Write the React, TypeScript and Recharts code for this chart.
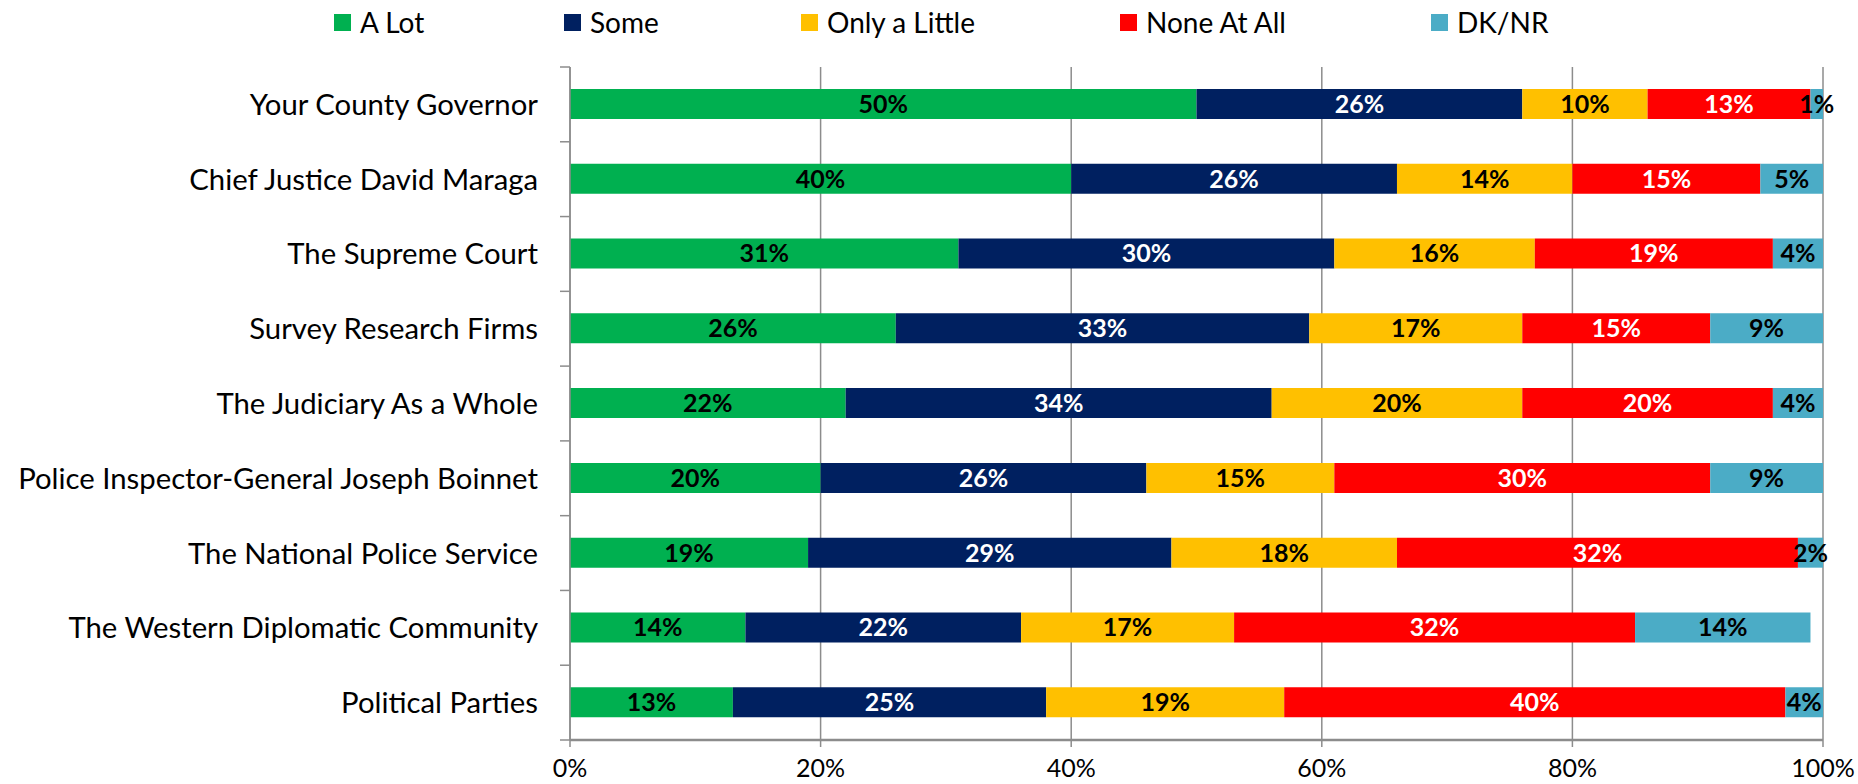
import React from 'react';
import { BarChart, Bar, XAxis, YAxis, CartesianGrid, Legend, LabelList } from 'recharts';

const categories = [
  'Your County Governor',
  'Chief Justice David Maraga',
  'The Supreme Court',
  'Survey Research Firms',
  'The Judiciary As a Whole',
  'Police Inspector-General Joseph Boinnet',
  'The National Police Service',
  'The Western Diplomatic Community',
  'Political Parties',
];
const aLot = [50, 40, 31, 26, 22, 20, 19, 14, 13];
const some = [26, 26, 30, 33, 34, 26, 29, 22, 25];
const onlyALittle = [10, 14, 16, 17, 20, 15, 18, 17, 19];
const noneAtAll = [13, 15, 19, 15, 20, 30, 32, 32, 40];
const dkNr = [1, 5, 4, 9, 4, 9, 2, 14, 4];
const xTicks = [0, 20, 40, 60, 80, 100];
const seriesNames = ['A Lot', 'Some', 'Only a Little', 'None At All', 'DK/NR'];
const seriesKeys = ['aLot', 'some', 'onlyALittle', 'noneAtAll', 'dkNr'];

const data = categories.map((c, i) => ({
  category: c,
  aLot: aLot[i],
  some: some[i],
  onlyALittle: onlyALittle[i],
  noneAtAll: noneAtAll[i],
  dkNr: dkNr[i],
}));

// styling / layout
const W = 1858;
const H = 784;
const FONT = 'Lato, "Open Sans", sans-serif';
const COLORS = ['#00B050', '#002060', '#FFC000', '#FF0000', '#4BACC6'];
const LABEL_COLORS = ['#000000', '#FFFFFF', '#000000', '#FFFFFF', '#000000'];
const GRID = '#8c8c8c';
const LEGEND_H = 40;
const M_TOP = 27;
const X_AXIS_H = 44;
const PLOT_LEFT = 570;
const PLOT_TOP = M_TOP + LEGEND_H;
const PLOT_BOTTOM = H - X_AXIS_H;
const BAND = (PLOT_BOTTOM - PLOT_TOP) / categories.length;
const LEGEND_X = [334, 564, 801, 1120, 1431];

const CategoryTick = (props: any) => {
  const { y, payload, index } = props;
  const last = index === categories.length - 1;
  return (
    <g>
      <line x1={PLOT_LEFT - 10} x2={PLOT_LEFT} y1={y - BAND / 2} y2={y - BAND / 2} stroke={GRID} strokeWidth={1.5} />
      {last && (
        <line x1={PLOT_LEFT - 10} x2={PLOT_LEFT} y1={y + BAND / 2} y2={y + BAND / 2} stroke={GRID} strokeWidth={1.5} />
      )}
      <text x={538} y={y} dy="0.36em" textAnchor="end" fontFamily={FONT} fontSize={29.3} fill="#000">
        {payload.value}
      </text>
    </g>
  );
};

const renderLegend = () => (
  <div style={{ position: 'relative', width: W, height: LEGEND_H }}>
    {seriesNames.map((name, i) => (
      <div
        key={name}
        style={{
          position: 'absolute',
          left: LEGEND_X[i],
          top: 4,
          height: 36,
          display: 'flex',
          alignItems: 'center',
          fontFamily: FONT,
          fontSize: 28,
          color: '#000',
          whiteSpace: 'nowrap',
        }}
      >
        <span style={{ display: 'inline-block', width: 17, height: 17, background: COLORS[i], marginRight: 9 }} />
        <span>{name}</span>
      </div>
    ))}
  </div>
);

export default function App() {
  return (
    <div style={{ position: 'absolute', left: 0, top: 0, width: W, height: H, background: '#fff' }}>
      <BarChart
        width={W}
        height={H}
        data={data}
        layout="vertical"
        margin={{ top: M_TOP, right: 35, bottom: 0, left: 0 }}
        barSize={30}
      >
        <Legend
          verticalAlign="top"
          align="left"
          content={renderLegend}
          wrapperStyle={{ top: 0, left: 0, width: W, height: LEGEND_H }}
        />
        <CartesianGrid horizontal={false} vertical={true} stroke={GRID} strokeWidth={1.5} />
        <XAxis
          type="number"
          domain={[0, 100]}
          ticks={xTicks}
          allowDataOverflow
          tickFormatter={(v: number) => `${v}%`}
          height={X_AXIS_H}
          axisLine={{ stroke: GRID, strokeWidth: 2.5 }}
          tickLine={{ stroke: GRID, strokeWidth: 1.5 }}
          tickSize={7}
          tickMargin={12}
          tick={{ fontFamily: FONT, fontSize: 25, fill: '#000' }}
          interval={0}
        />
        <YAxis
          type="category"
          dataKey="category"
          width={PLOT_LEFT}
          axisLine={{ stroke: GRID, strokeWidth: 1.5 }}
          tickLine={false}
          tick={<CategoryTick />}
          interval={0}
        />
        {seriesKeys.map((k, i) => (
          <Bar key={k} dataKey={k} name={seriesNames[i]} stackId="s" fill={COLORS[i]} isAnimationActive={false}>
            <LabelList
              dataKey={k}
              position="center"
              formatter={(v: any) => `${v}%`}
              fill={LABEL_COLORS[i]}
              fontFamily={FONT}
              fontWeight="bold"
              fontSize={25}
            />
          </Bar>
        ))}
      </BarChart>
    </div>
  );
}
